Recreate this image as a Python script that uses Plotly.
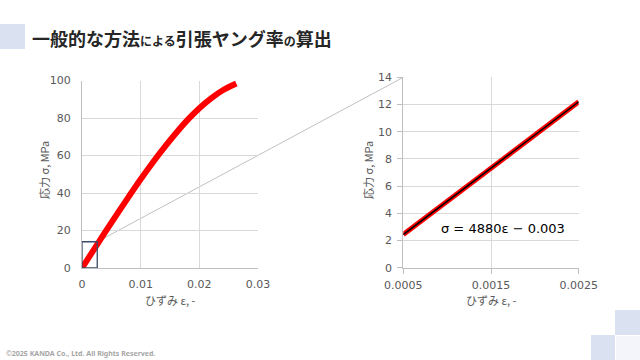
import plotly.graph_objects as go

# ---- data ----
strain_full = [0, 0.002, 0.004, 0.006, 0.008, 0.01, 0.012, 0.014, 0.016, 0.018, 0.02, 0.022, 0.024, 0.0263]
stress_full = [0, 9.7, 19.4, 28.9, 38.2, 47.3, 56.0, 64.2, 71.9, 79.0, 85.2, 90.5, 94.8, 98.4]

strain_zoom = [0.0005, 0.001, 0.0015, 0.002, 0.0025]
stress_zoom = [2.44, 4.88, 7.32, 9.76, 12.2]

fit_slope = 4880
fit_intercept = -0.003

left_xticks = [0, 0.01, 0.02, 0.03]
left_xticktext = ["0", "0.01", "0.02", "0.03"]
left_yticks = [0, 20, 40, 60, 80, 100]
right_xticks = [0.0005, 0.0015, 0.0025]
right_xticktext = ["0.0005", "0.0015", "0.0025"]
right_yticks = [0, 2, 4, 6, 8, 10, 12, 14]

zoom_box_x = [0, 0.0026]
zoom_box_y = [0, 14]

title_parts = [("一般的な方法", 18), ("による", 12), ("引張ヤング率", 18), ("の", 12), ("算出", 18)]
y_title = "応力 σ, MPa"
x_title = "ひずみ ε, -"
eq_text = "σ = 4880ε − 0.003"
footer = "©2025 KANDA Co., Ltd. All Rights Reserved."

# ---- layout geometry ----
W, H = 640, 360
L_dom_x = [82 / W, 258 / W]
L_dom_y = [1 - 268 / H, 1 - 80.5 / H]
R_dom_x = [403.3 / W, 578.7 / W]
R_dom_y = [1 - 267.7 / H, 1 - 77.3 / H]
L_rx, L_ry = [0, 0.03], [0, 100]
R_rx, R_ry = [0.0005, 0.0025], [0, 14]

fit_y = [fit_slope * e + fit_intercept for e in strain_zoom]

TICK_FONT = dict(family="DejaVu Sans", size=11, color="#595959")
JP = "Noto Sans CJK JP"
GRID = "#d9d9d9"

fig = go.Figure()
fig.add_trace(go.Scatter(x=strain_full, y=stress_full, mode="lines",
                         line=dict(color="#ff0000", width=6, shape="spline", smoothing=1),
                         xaxis="x", yaxis="y", showlegend=False, hoverinfo="skip"))
fig.add_trace(go.Scatter(x=strain_zoom, y=stress_zoom, mode="lines",
                         line=dict(color="#ff0000", width=5),
                         xaxis="x2", yaxis="y2", showlegend=False, hoverinfo="skip"))
fig.add_trace(go.Scatter(x=strain_zoom, y=fit_y, mode="lines",
                         line=dict(color="#000000", width=1.5),
                         xaxis="x2", yaxis="y2", showlegend=False, hoverinfo="skip"))

def ax(domain, rng, tickvals, ticktext=None, anchor=None, ticks="", standoff=8):
    d = dict(domain=domain, range=rng, tickmode="array", tickvals=tickvals,
             showgrid=True, gridcolor=GRID, gridwidth=1, zeroline=False,
             showline=True, linecolor="#bfbfbf", linewidth=1,
             tickfont=TICK_FONT, ticks=ticks, ticklen=5, tickcolor="#bfbfbf",
             ticklabelstandoff=standoff, fixedrange=True, anchor=anchor,
             automargin=False)
    if ticktext is not None:
        d["ticktext"] = ticktext
    return d

fig.update_layout(
    width=W, height=H, margin=dict(l=0, r=0, t=0, b=0, pad=0, autoexpand=False),
    paper_bgcolor="white", plot_bgcolor="white",
    xaxis=ax(L_dom_x, L_rx, left_xticks, left_xticktext, anchor="y", standoff=6),
    yaxis=ax(L_dom_y, L_ry, left_yticks, anchor="x", standoff=8),
    xaxis2=ax(R_dom_x, R_rx, right_xticks, right_xticktext, anchor="y2", ticks="outside", standoff=2),
    yaxis2=ax(R_dom_y, R_ry, right_yticks, anchor="x2", ticks="outside", standoff=3),
)

def to_paper(x, y, dx, dy, rx, ry):
    px = dx[0] + (x - rx[0]) / (rx[1] - rx[0]) * (dx[1] - dx[0])
    py = dy[0] + (y - ry[0]) / (ry[1] - ry[0]) * (dy[1] - dy[0])
    return px, py

shapes = []
shapes.append(dict(type="rect", xref="x", yref="y", x0=zoom_box_x[0], x1=zoom_box_x[1],
                   y0=zoom_box_y[0], y1=zoom_box_y[1], line=dict(color="#3b4a66", width=1.3)))
p0 = to_paper(zoom_box_x[1], zoom_box_y[1], L_dom_x, L_dom_y, L_rx, L_ry)
p1 = to_paper(R_rx[0], R_ry[1], R_dom_x, R_dom_y, R_rx, R_ry)
shapes.append(dict(type="line", xref="paper", yref="paper", x0=p0[0], y0=p0[1], x1=p1[0], y1=p1[1],
                   line=dict(color="#c0c0c0", width=1), layer="below"))

def px_rect(x0, y0, x1, y1, color):
    return dict(type="rect", xref="paper", yref="paper", x0=x0 / W, x1=x1 / W,
                y0=1 - y1 / H, y1=1 - y0 / H, fillcolor=color, line=dict(width=0), layer="below")
shapes.append(px_rect(0, 24, 25, 49, "#dae2f2"))
shapes.append(px_rect(615, 310, 640, 335, "#dae2f2"))
shapes.append(px_rect(591, 335, 615, 360, "#dae2f2"))
shapes.append(px_rect(616, 336, 640, 360, "#f3f5fb"))
fig.update_layout(shapes=shapes)

title_html = "".join(f'<span style="font-size:{s}px">{t}</span>' for t, s in title_parts)
annos = [
    dict(text=f"<b>{title_html}</b>", x=30 / W, y=1 - 38 / H, xanchor="left", yanchor="middle",
         font=dict(family=JP, size=18, color="#262626")),
    dict(text=y_title, x=44 / W, y=1 - 170 / H, textangle=-90, xanchor="center", yanchor="middle",
         font=dict(family=JP, size=11, color="#595959")),
    dict(text=y_title, x=368 / W, y=1 - 170 / H, textangle=-90, xanchor="center", yanchor="middle",
         font=dict(family=JP, size=11, color="#595959")),
    dict(text=x_title, x=(L_dom_x[0] + L_dom_x[1]) / 2, y=1 - 300 / H, xanchor="center", yanchor="middle",
         font=dict(family=JP, size=11, color="#595959")),
    dict(text=x_title, x=(R_dom_x[0] + R_dom_x[1]) / 2, y=1 - 300 / H, xanchor="center", yanchor="middle",
         font=dict(family=JP, size=11, color="#595959")),
    dict(text=eq_text, x=502.5 / W, y=1 - 228.5 / H, xanchor="center", yanchor="middle",
         font=dict(family="DejaVu Sans", size=13, color="#000000")),
    dict(text=f"<b>{footer}</b>", x=4 / W, y=1 - 353 / H, xanchor="left", yanchor="middle",
         font=dict(family="Noto Sans", size=7, color="#a6a6a6")),
]
for a in annos:
    a.update(xref="paper", yref="paper", showarrow=False)
fig.update_layout(annotations=annos)

fig.write_html("out.html", config={"displayModeBar": False},
               post_script="document.body.style.margin='0';document.body.style.overflow='hidden';")
